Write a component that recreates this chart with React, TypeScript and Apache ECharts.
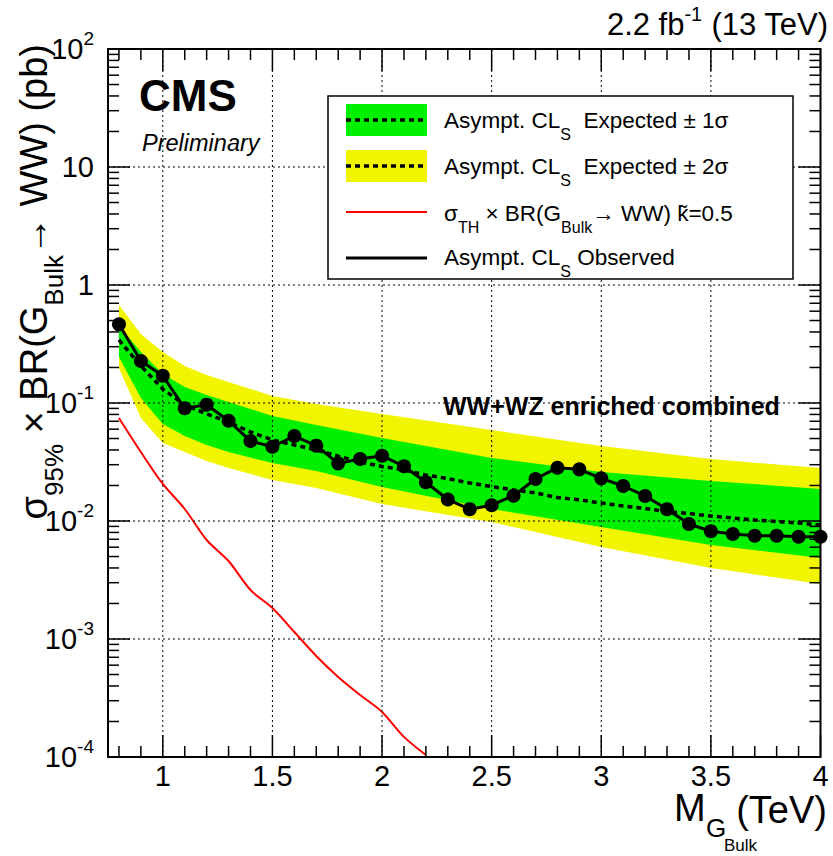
import React, { useEffect, useRef } from "react";
import * as echarts from "echarts";

// ---------------- data ----------------
const massPoints = [0.8, 0.9, 1.0, 1.1, 1.2, 1.3, 1.4, 1.5, 1.6, 1.7, 1.8, 1.9, 2.0, 2.1, 2.2, 2.3, 2.4, 2.5, 2.6, 2.7, 2.8, 2.9, 3.0, 3.1, 3.2, 3.3, 3.4, 3.5, 3.6, 3.7, 3.8, 3.9, 4.0];
const observedLimit = [0.464, 0.227, 0.170, 0.0902, 0.0968, 0.0708, 0.0476, 0.0426, 0.0525, 0.0435, 0.0308, 0.0335, 0.0357, 0.0291, 0.0213, 0.0152, 0.0126, 0.0136, 0.0164, 0.0227, 0.0283, 0.0274, 0.0230, 0.0198, 0.0163, 0.0126, 0.00944, 0.00819, 0.00776, 0.00750, 0.00750, 0.00736, 0.00736];
const expectedLimit = [0.342, 0.206, 0.1314, 0.0962, 0.0807, 0.0690, 0.0568, 0.0486, 0.0441, 0.0400, 0.0355, 0.0316, 0.0290, 0.0271, 0.0245, 0.0229, 0.0210, 0.0196, 0.0183, 0.0173, 0.0158, 0.0151, 0.0142, 0.0134, 0.01276, 0.01204, 0.01158, 0.01102, 0.01060, 0.01020, 0.00990, 0.00962, 0.00925];

const bandMass = [0.8, 0.9, 1.0, 1.1, 1.2, 1.3, 1.5, 1.7, 2.0, 2.5, 3.0, 3.5, 4.0];
const band2Up = [0.677, 0.384, 0.2705, 0.206, 0.1727, 0.1507, 0.1146, 0.0981, 0.0807, 0.0590, 0.0432, 0.0335, 0.0281];
const band1Up = [0.449, 0.2705, 0.176, 0.1366, 0.1169, 0.1020, 0.0776, 0.0651, 0.0505, 0.0342, 0.0260, 0.0218, 0.0187];
const band1Down = [0.2453, 0.1103, 0.0664, 0.0525, 0.0441, 0.0384, 0.0310, 0.0265, 0.0194, 0.01264, 0.00890, 0.00626, 0.00486];
const band2Down = [0.198, 0.0746, 0.0458, 0.0384, 0.0323, 0.0281, 0.0223, 0.0190, 0.0139, 0.0098, 0.00602, 0.0040, 0.00292];

const theoryMass = [0.8, 0.9, 1.0, 1.1, 1.2, 1.3, 1.4, 1.5, 1.6, 1.7, 1.8, 1.9, 2.0, 2.1, 2.2];
const theoryXsec = [0.0746, 0.0384, 0.0206, 0.01264, 0.0069, 0.00458, 0.0026, 0.00183, 0.001146, 0.000718, 0.000476, 0.000335, 0.000241, 0.000148, 0.000104];

// axis ticks
const xMin = 0.75;
const xMax = 4.0;
const yMin = 1e-4;
const yMax = 1e2;
const xMajorTicks = [1.0, 1.5, 2.0, 2.5, 3.0, 3.5, 4.0];
const xTickValues = [0.8, 0.9, 1.0, 1.1, 1.2, 1.3, 1.4, 1.5, 1.6, 1.7, 1.8, 1.9, 2.0, 2.1, 2.2, 2.3, 2.4, 2.5, 2.6, 2.7, 2.8, 2.9, 3.0, 3.1, 3.2, 3.3, 3.4, 3.5, 3.6, 3.7, 3.8, 3.9, 4.0];
const yDecades = [1e-4, 1e-3, 1e-2, 1e-1, 1, 10, 100];
const yMinorMultipliers = [2, 3, 4, 5, 6, 7, 8, 9];

const FONT = "'Liberation Sans', Arial, Helvetica, sans-serif";

const yTickValues: number[] = [];
yDecades.forEach((d, i) => {
  yTickValues.push(d);
  if (i < yDecades.length - 1) yMinorMultipliers.forEach((m) => yTickValues.push(m * d));
});

function bandSeries(name: string, up: number[], down: number[], color: string, z: number) {
  return {
    type: "custom",
    name,
    z,
    silent: true,
    data: bandMass.map((m, i) => [m, down[i], up[i]]),
    encode: { x: 0, y: [1, 2] },
    renderItem: (params: any, api: any) => {
      if (params.dataIndex !== 0) return { type: "group", children: [] };
      const pts: number[][] = [];
      for (let i = 0; i < bandMass.length; i++) pts.push(api.coord([bandMass[i], up[i]]));
      for (let i = bandMass.length - 1; i >= 0; i--) pts.push(api.coord([bandMass[i], down[i]]));
      return { type: "polygon", shape: { points: pts }, style: { fill: color, stroke: null } };
    },
  };
}

const gridDash = { stroke: "#000", lineWidth: 1, lineDash: [2, 3] };
const tickStyle = { stroke: "#000", lineWidth: 1.5 };

function txt(x: number, y: number, text: string, fontSize: number, extra: any = {}) {
  return {
    type: "text",
    z: 100,
    x,
    y,
    style: { text, fontSize, fontFamily: FONT, fill: "#000", align: "left", verticalAlign: "middle", ...extra },
  };
}

export default function App() {
  const ref = useRef<HTMLDivElement>(null);
  useEffect(() => {
    if (!ref.current) return;
    const chart = echarts.init(ref.current, undefined, { renderer: "svg" });

    const option: any = {
      animation: false,
      backgroundColor: "#fff",
      grid: { left: 108, top: 49, width: 712.5, height: 708, show: false, outerBoundsMode: "none" },
      xAxis: {
        type: "value",
        min: xMin,
        max: xMax,
        interval: 0.25,
        axisLine: { show: false },
        axisTick: { show: false },
        splitLine: { show: false },
        axisLabel: {
          show: true,
          showMinLabel: true,
          showMaxLabel: true,
          margin: 4,
          color: "#000",
          fontSize: 29,
          fontFamily: FONT,
          formatter: (v: number) => {
            const ok = xMajorTicks.some((m) => Math.abs(m - v) < 1e-6);
            return ok ? String(Math.round(v * 10) / 10) : "";
          },
        },
      },
      yAxis: {
        type: "log",
        logBase: 10,
        min: yMin,
        max: yMax,
        axisLine: { show: false },
        axisTick: { show: false },
        splitLine: { show: false },
        minorTick: { show: false },
        axisLabel: {
          margin: 14,
          color: "#000",
          fontFamily: FONT,
          fontSize: 29,
          formatter: (v: number) => {
            const e = Math.round(Math.log10(v));
            if (e === 0) return "{b|1}";
            if (e === 1) return "{b|10}";
            return "{b|10}{s|" + e + "}";
          },
          rich: {
            b: { fontSize: 29, fontFamily: FONT, color: "#000", lineHeight: 40 },
            s: { fontSize: 19, fontFamily: FONT, color: "#000", lineHeight: 20, verticalAlign: "top" },
          },
        },
      },
      series: [
        bandSeries("±2σ", band2Up, band2Down, "#f2f500", 1),
        bandSeries("±1σ", band1Up, band1Down, "#00f000", 2),
        {
          type: "line",
          name: "Expected",
          z: 3,
          data: massPoints.map((m, i) => [m, expectedLimit[i]]),
          showSymbol: false,
          symbol: "none",
          lineStyle: { color: "#000", width: 3.5, type: [5, 4] },
        },
        {
          type: "line",
          name: "Theory",
          z: 4,
          data: theoryMass.map((m, i) => [m, theoryXsec[i]]),
          symbol: "none",
          smooth: 0.3,
          lineStyle: { color: "#ff0000", width: 2 },
        },
        {
          type: "line",
          name: "Observed",
          z: 5,
          data: massPoints.map((m, i) => [m, observedLimit[i]]),
          symbol: "circle",
          symbolSize: 14,
          itemStyle: { color: "#000" },
          lineStyle: { color: "#000", width: 3 },
        },
        // x ticks + vertical grid
        {
          type: "custom",
          z: 8,
          silent: true,
          data: xTickValues.map((v) => [v, yMin]),
          renderItem: (params: any, api: any) => {
            const v = xTickValues[params.dataIndex];
            const major = xMajorTicks.some((m) => Math.abs(m - v) < 1e-6);
            const len = major ? 22 : 11;
            const b = api.coord([v, yMin]);
            const t = api.coord([v, yMax]);
            const children: any[] = [];
            if (major) children.push({ type: "line", shape: { x1: b[0], y1: b[1], x2: t[0], y2: t[1] }, style: gridDash });
            children.push({ type: "line", shape: { x1: b[0], y1: b[1], x2: b[0], y2: b[1] - len }, style: tickStyle });
            children.push({ type: "line", shape: { x1: t[0], y1: t[1], x2: t[0], y2: t[1] + len }, style: tickStyle });
            return { type: "group", children };
          },
        },
        // y ticks + horizontal grid
        {
          type: "custom",
          z: 8,
          silent: true,
          data: yTickValues.map((v) => [xMin, v]),
          renderItem: (params: any, api: any) => {
            const v = yTickValues[params.dataIndex];
            const major = yDecades.some((d) => Math.abs(d - v) / d < 1e-6);
            const len = major ? 22 : 11;
            const l = api.coord([xMin, v]);
            const r = api.coord([xMax, v]);
            const children: any[] = [];
            if (major) children.push({ type: "line", shape: { x1: l[0], y1: l[1], x2: r[0], y2: r[1] }, style: gridDash });
            children.push({ type: "line", shape: { x1: l[0], y1: l[1], x2: l[0] + len, y2: l[1] }, style: tickStyle });
            children.push({ type: "line", shape: { x1: r[0], y1: r[1], x2: r[0] - len, y2: r[1] }, style: tickStyle });
            return { type: "group", children };
          },
        },
        // frame
        {
          type: "custom",
          z: 9,
          silent: true,
          data: [[xMin, yMin]],
          renderItem: (params: any, api: any) => {
            const a = api.coord([xMin, yMax]);
            const b = api.coord([xMax, yMin]);
            return {
              type: "rect",
              shape: { x: a[0], y: a[1], width: b[0] - a[0], height: b[1] - a[1] },
              style: { fill: null, stroke: "#000", lineWidth: 2 },
            };
          },
        },
      ],
      graphic: [
        {
          type: "text",
          z: 100,
          x: 828,
          y: 24,
          style: {
            text: "{a|2.2 fb}{s|-1}{a| (13 TeV)}",
            align: "right",
            verticalAlign: "middle",
            rich: {
              a: { fontSize: 31, fontFamily: FONT, fill: "#000", lineHeight: 40 },
              s: { fontSize: 20, fontFamily: FONT, fill: "#000", lineHeight: 18, verticalAlign: "top" },
            },
          },
        },
        txt(139, 95, "CMS", 44, { fontWeight: "bold" }),
        txt(142, 143, "Preliminary", 23.5, { fontStyle: "italic" }),
        txt(443, 406, "WW+WZ enriched combined", 25, { fontWeight: "bold" }),
        // legend box
        {
          type: "rect",
          z: 100,
          shape: { x: 328, y: 96, width: 465, height: 183 },
          style: { fill: "#fff", stroke: "#000", lineWidth: 1.5 },
        },
        { type: "rect", z: 101, shape: { x: 346, y: 104, width: 81, height: 32 }, style: { fill: "#00f000" } },
        { type: "line", z: 102, shape: { x1: 346, y1: 120, x2: 427, y2: 120 }, style: { stroke: "#000", lineWidth: 3.5, lineDash: [5, 4] } },
        { type: "rect", z: 101, shape: { x: 346, y: 150, width: 81, height: 32 }, style: { fill: "#f2f500" } },
        { type: "line", z: 102, shape: { x1: 346, y1: 166, x2: 427, y2: 166 }, style: { stroke: "#000", lineWidth: 3.5, lineDash: [5, 4] } },
        { type: "line", z: 102, shape: { x1: 346, y1: 212, x2: 427, y2: 212 }, style: { stroke: "#ff0000", lineWidth: 2 } },
        { type: "line", z: 102, shape: { x1: 346, y1: 258, x2: 427, y2: 258 }, style: { stroke: "#000", lineWidth: 3 } },
        ...[
          { y: 120, text: "{t|Asympt. CL}{sS|S}{t|  Expected ± 1σ}" },
          { y: 166, text: "{t|Asympt. CL}{sS|S}{t|  Expected ± 2σ}" },
          { y: 213, text: "{t|σ}{sT|TH}{t| × BR(G}{sB|Bulk}{t|→ WW) k\u0303=0.5}" },
          { y: 257, text: "{t|Asympt. CL}{sS|S}{t| Observed}" },
        ].map((r) => ({
          type: "text",
          z: 103,
          x: 444,
          y: r.y,
          style: {
            text: r.text,
            align: "left",
            verticalAlign: "middle",
            rich: {
              t: { fontSize: 22.5, fontFamily: FONT, fill: "#000", lineHeight: 44 },
              sS: { fontSize: 16, fontFamily: FONT, fill: "#000", lineHeight: 10, verticalAlign: "bottom" },
              sT: { fontSize: 16, fontFamily: FONT, fill: "#000", lineHeight: 20, verticalAlign: "bottom" },
              sB: { fontSize: 16, fontFamily: FONT, fill: "#000", lineHeight: 14, verticalAlign: "bottom" },
            },
          },
        })),
        // y axis title
        {
          type: "text",
          z: 100,
          x: 34,
          y: 44,
          rotation: Math.PI / 2,
          style: {
            text: "{b|σ}{s|95%}{b| × BR(G}{s|Bulk}{b|→ WW) (pb)}",
            align: "right",
            verticalAlign: "middle",
            rich: {
              b: { fontSize: 38, fontFamily: FONT, fill: "#000", lineHeight: 66 },
              s: { fontSize: 26, fontFamily: FONT, fill: "#000", lineHeight: 38, verticalAlign: "bottom" },
            },
          },
        },
        // x axis title
        txt(827, 810, "(TeV)", 38, { align: "right" }),
        txt(674, 808, "M", 38),
        txt(706, 828, "G", 26),
        txt(724, 845, "Bulk", 17),
      ],
    };

    chart.setOption(option);
    return () => chart.dispose();
  }, []);

  return <div ref={ref} style={{ position: "fixed", left: 0, top: 0, width: 833, height: 856 }} />;
}
